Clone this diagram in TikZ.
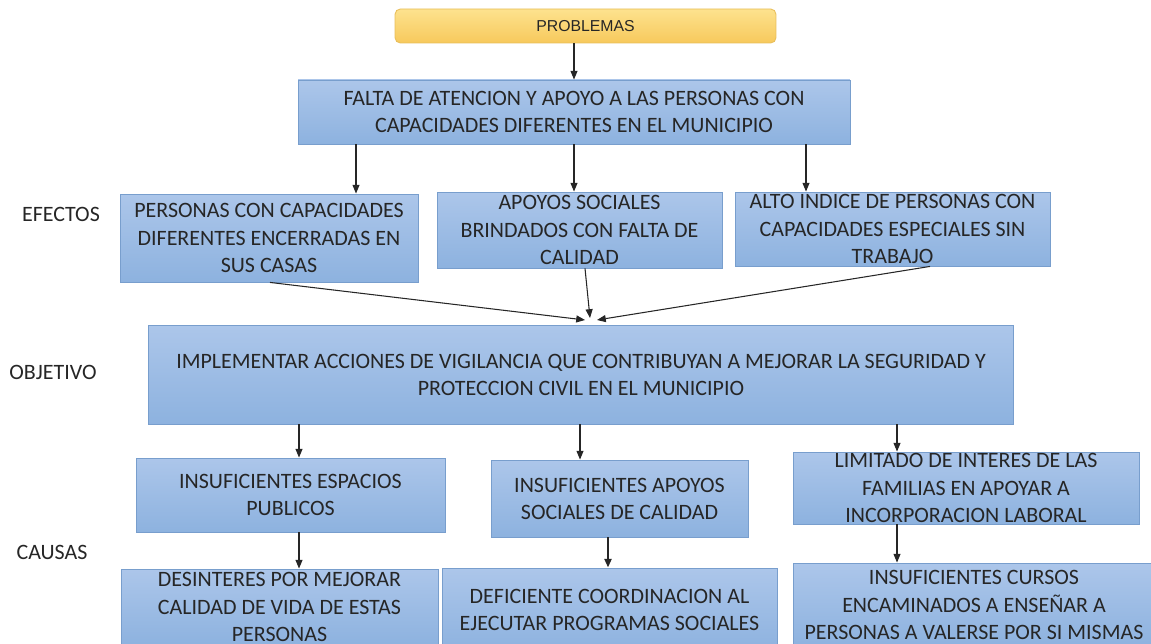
\documentclass[tikz,border=0pt]{standalone}
\usepackage{fontspec}
\setmainfont{Carlito}
\newfontfamily\arialfont{Liberation Sans}
\usetikzlibrary{arrows.meta}

\definecolor{boxtop}{RGB}{172,198,234}
\definecolor{boxbot}{RGB}{141,178,223}
\definecolor{boxline}{RGB}{120,158,205}
\definecolor{probtop}{RGB}{253,226,142}
\definecolor{probbot}{RGB}{247,201,92}
\definecolor{probline}{RGB}{232,190,90}
\definecolor{ink}{RGB}{38,38,38}

\begin{document}
\begin{tikzpicture}[x=0.02cm,y=-0.02cm,>={Triangle[length=5pt,width=4pt]},
  box/.style={draw=boxline,line width=0.5pt,top color=boxtop,bottom color=boxbot,
    align=center,text=ink,font=\fontsize{12.5}{15.4}\selectfont,inner sep=0pt},
  side/.style={text=ink,font=\fontsize{12.5}{15}\selectfont},
  link/.style={->,line width=0.6pt,black!85}]
  \useasboundingbox (0,0) rectangle (1151,644);
  \clip (0,0) rectangle (1151,644);

  \node[draw=probline,line width=0.5pt,rounded corners=3pt,top color=probtop,bottom color=probbot,
    minimum width=7.62cm,minimum height=0.68cm,text=ink,font=\arialfont\fontsize{9}{11}\selectfont]
    (prob) at (585.5,26) {PROBLEMAS};
  \node[box,minimum width=11.04cm,minimum height=1.28cm] (falta) at (574,112)
    {FALTA DE ATENCION Y APOYO A LAS PERSONAS CON\\CAPACIDADES DIFERENTES EN EL MUNICIPIO};

  \node[box,minimum width=5.96cm,minimum height=1.76cm] (ef1) at (269,238)
    {PERSONAS CON CAPACIDADES\\DIFERENTES ENCERRADAS EN\\SUS CASAS};
  \node[box,minimum width=5.7cm,minimum height=1.52cm] (ef2) at (579.5,230)
    {APOYOS SOCIALES\\BRINDADOS CON FALTA DE\\CALIDAD};
  \node[box,minimum width=6.3cm,minimum height=1.48cm] (ef3) at (892.5,229)
    {ALTO INDICE DE PERSONAS CON\\CAPACIDADES ESPECIALES SIN\\TRABAJO};

  \node[box,minimum width=17.32cm,minimum height=1.98cm] (obj) at (581,374.5)
    {IMPLEMENTAR ACCIONES DE VIGILANCIA QUE CONTRIBUYAN A MEJORAR LA SEGURIDAD Y\\PROTECCION CIVIL EN EL MUNICIPIO};

  \node[box,minimum width=6.18cm,minimum height=1.48cm] (ca1) at (290.5,495)
    {INSUFICIENTES ESPACIOS\\PUBLICOS};
  \node[box,minimum width=5.14cm,minimum height=1.54cm] (ca2) at (619.5,498.5)
    {INSUFICIENTES APOYOS\\SOCIALES DE CALIDAD};
  \node[box,minimum width=6.92cm,minimum height=1.44cm] (ca3) at (966,488)
    {LIMITADO DE INTERES DE LAS\\FAMILIAS EN APOYAR A\\INCORPORACION LABORAL};

  \node[box,minimum width=6.34cm,minimum height=1.52cm] (bot1) at (279.5,607)
    {DESINTERES POR MEJORAR\\CALIDAD DE VIDA DE ESTAS\\PERSONAS};
  \node[box,minimum width=6.7cm,minimum height=1.68cm] (bot2) at (609.5,610)
    {DEFICIENTE COORDINACION AL\\EJECUTAR PROGRAMAS SOCIALES};
  \node[box,minimum width=7.24cm,minimum height=1.68cm] (bot3) at (974,605)
    {INSUFICIENTES CURSOS\\ENCAMINADOS A ENSEÑAR A\\PERSONAS A VALERSE POR SI MISMAS};

  \node[side] (efectos) at (61,214) {EFECTOS};
  \node[side] (objetivo) at (53,372) {OBJETIVO};
  \node[side] (causas) at (52,552) {CAUSAS};

  \draw[link] (falta.north |- prob.south) -- (falta.north);
  \draw[link] (falta.south -| 356,0) -- (ef1.north -| 356,0);
  \draw[link] (falta.south -| 574,0) -- (ef2.north -| 574,0);
  \draw[link] (falta.south -| 806,0) -- (ef3.north -| 806,0);

  \coordinate (in1) at (585,320);
  \coordinate (in2) at (590,318);
  \coordinate (in3) at (597,320);
  \draw[link] (ef1.south -| 270,0) -- (in1);
  \draw[link] (ef2.south -| 585,0) -- (in2);
  \draw[link] (ef3.south -| 930,0) -- (in3);

  \draw[link] (obj.south -| 299,0) -- (ca1.north -| 299,0);
  \draw[link] (obj.south -| 580,0) -- (ca2.north -| 580,0);
  \draw[link] (obj.south -| 897,0) -- (ca3.north -| 897,0);

  \draw[link] (ca1.south -| 299,0) -- (bot1.north -| 299,0);
  \draw[link,line width=1.4pt] (ca2.south -| 608,0) -- (bot2.north -| 608,0);
  \draw[link] (ca3.south -| 897,0) -- (bot3.north -| 897,0);
\end{tikzpicture}
\end{document}
